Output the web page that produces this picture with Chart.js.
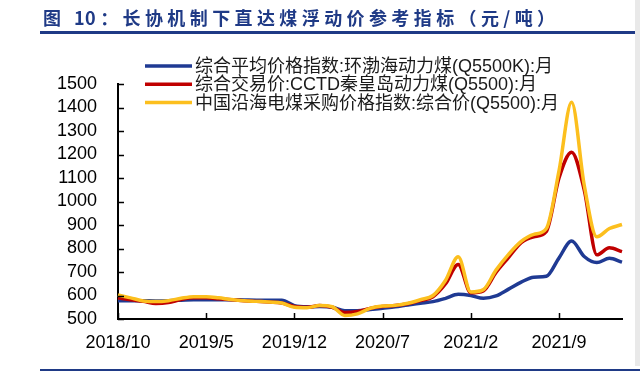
<!DOCTYPE html>
<html>
<head>
<meta charset="utf-8">
<script src="https://cdn.jsdelivr.net/npm/chart.js@4"></script>
<style>
  body { margin: 0; background: #fff; }
  #wrap { position: relative; width: 640px; height: 372px; overflow: hidden; }
  #title {
    position: absolute; left: 43px; top: 4px;
    font: bold 18px "Noto Sans CJK SC", "Liberation Sans", sans-serif;
    letter-spacing: 4.4px; color: #1f3a86; white-space: nowrap;
  }
  #title .num { letter-spacing: 0.5px; margin-right: 4px; }
  #rule-top { position: absolute; left: 40px; right: 0; top: 31px; height: 3px; background: #1f3a86; }
  #rule-bot { position: absolute; left: 40px; right: 0; top: 369px; height: 2px; background: #1f3a86; }
  #edge { position: absolute; right: 0; top: 0; width: 5px; height: 366px; background: #e9e9e9; }
  #chart { position: absolute; left: 0; top: 0; }
</style>
</head>
<body>
<div id="wrap">
  <canvas id="chart" width="640" height="372"></canvas>
  <div id="title">图 <span class="num">10</span>：长协机制下直达煤浮动价参考指标（元/吨）</div>
  <div id="rule-top"></div>
  <div id="rule-bot"></div>
  <div id="edge"></div>
</div>
<script>
'use strict';

const months = [
  '2018/10', '2018/11', '2018/12',
  '2019/1', '2019/2', '2019/3', '2019/4', '2019/5', '2019/6', '2019/7', '2019/8', '2019/9', '2019/10', '2019/11', '2019/12',
  '2020/1', '2020/2', '2020/3', '2020/4', '2020/5', '2020/6', '2020/7', '2020/8', '2020/9', '2020/10', '2020/11', '2020/12',
  '2021/1', '2021/2', '2021/3', '2021/4', '2021/5', '2021/6', '2021/7', '2021/8', '2021/9', '2021/10', '2021/11', '2021/12',
  '2022/1', '2022/2'
];
const tickLabels = ['2018/10', '2019/5', '2019/12', '2020/7', '2021/2', '2021/9'];

const bohaiIndex = [578, 578, 578, 577, 578, 580, 582, 582, 582, 582, 581, 580, 580, 580, 557, 552, 553, 550, 535, 535,
  540, 546, 552, 560, 567, 574, 588, 605, 600, 588, 598, 627, 657, 678, 682, 760, 832, 766, 740, 758, 742];
const cctdPrice = [590, 582, 575, 566, 570, 583, 590, 590, 586, 582, 578, 575, 572, 568, 553, 550, 557, 550, 528, 532,
  545, 553, 557, 565, 578, 595, 650, 732, 612, 620, 698, 762, 825, 850, 873, 1100, 1210, 1050, 773, 803, 787];
const coastalIndex = [602, 590, 577, 574, 578, 588, 595, 595, 590, 583, 578, 575, 572, 568, 550, 548, 557, 552, 515, 522,
  545, 555, 558, 567, 582, 600, 665, 765, 615, 625, 708, 775, 830, 860, 885, 1130, 1422, 1070, 850, 885, 902];

const seriesNames = [
  '综合平均价格指数:环渤海动力煤(Q5500K):月',
  '综合交易价:CCTD秦皇岛动力煤(Q5500):月',
  '中国沿海电煤采购价格指数:综合价(Q5500):月'
];
const colors = ['#1f3a93', '#c00000', '#fcbf1e'];

const FONT = '"Liberation Sans", "Noto Sans CJK SC", sans-serif';

// legend drawn inside the plot, like the original
const legendPlugin = {
  id: 'innerLegend',
  afterDraw(chart) {
    const ctx = chart.ctx;
    ctx.save();
    ctx.font = '18px ' + FONT;
    ctx.textBaseline = 'middle';
    chart.data.datasets.forEach((ds, i) => {
      const y = 66 + i * 18.3;
      ctx.strokeStyle = ds.borderColor;
      ctx.lineWidth = 3.5;
      ctx.beginPath();
      ctx.moveTo(145, y);
      ctx.lineTo(192, y);
      ctx.stroke();
      ctx.fillStyle = '#1a1a1a';
      ctx.fillText(ds.label, 195, y + 1);
    });
    ctx.restore();
  }
};

// short tick marks pointing into the plot
const innerTicks = {
  id: 'innerTicks',
  afterDraw(chart) {
    const ctx = chart.ctx;
    const xs = chart.scales.x, ys = chart.scales.y;
    ctx.save();
    ctx.strokeStyle = '#000';
    ctx.lineWidth = 1.5;
    ctx.beginPath();
    ys.ticks.forEach(t => {
      const py = Math.round(ys.getPixelForValue(t.value)) + 0.5;
      ctx.moveTo(xs.left, py);
      ctx.lineTo(xs.left + 6, py);
    });
    xs.ticks.forEach((t, i) => {
      if (!tickLabels.includes(months[t.value])) return;
      const px = Math.round(xs.getPixelForTick(i)) + 0.5;
      ctx.moveTo(px, ys.bottom);
      ctx.lineTo(px, ys.bottom - 6);
    });
    ctx.stroke();
    ctx.restore();
  }
};

function renderChart() {
  const ctx = document.getElementById('chart').getContext('2d');

  const chartData = {
    labels: months,
    datasets: [
      { label: seriesNames[0], data: bohaiIndex, borderColor: colors[0], order: 3 },
      { label: seriesNames[1], data: cctdPrice, borderColor: colors[1], order: 2 },
      { label: seriesNames[2], data: coastalIndex, borderColor: colors[2], order: 1 }
    ]
  };

  const chartOptions = {
    responsive: false,
    animation: false,
    layout: { padding: { left: 0, right: 18, top: 84, bottom: 22 } },
    elements: {
      line: { borderWidth: 3.5, cubicInterpolationMode: 'monotone' },
      point: { radius: 0 }
    },
    plugins: { legend: { display: false }, tooltip: { enabled: false } },
    scales: {
      x: {
        offset: false,
        grid: { display: false, drawTicks: false },
        border: { display: true, color: '#000', width: 2 },
        afterFit: s => { s.height = 31; },
        ticks: {
          autoSkip: false,
          maxRotation: 0,
          padding: 13,
          color: '#000',
          font: { family: FONT, size: 18 },
          callback: function (v) {
            const lab = this.getLabelForValue(v);
            return tickLabels.includes(lab) ? lab : null;
          }
        }
      },
      y: {
        min: 500,
        max: 1500,
        grid: { display: false, drawTicks: false },
        border: { display: true, color: '#000', width: 2 },
        afterFit: s => { s.width = 118; },
        ticks: {
          stepSize: 100,
          autoSkip: false,
          padding: 21,
          color: '#000',
          font: { family: FONT, size: 18 },
          callback: v => String(v)
        }
      }
    }
  };

  new Chart(ctx, {
    type: 'line',
    data: chartData,
    options: chartOptions,
    plugins: [legendPlugin, innerTicks]
  });
}

renderChart();
</script>
</body>
</html>
